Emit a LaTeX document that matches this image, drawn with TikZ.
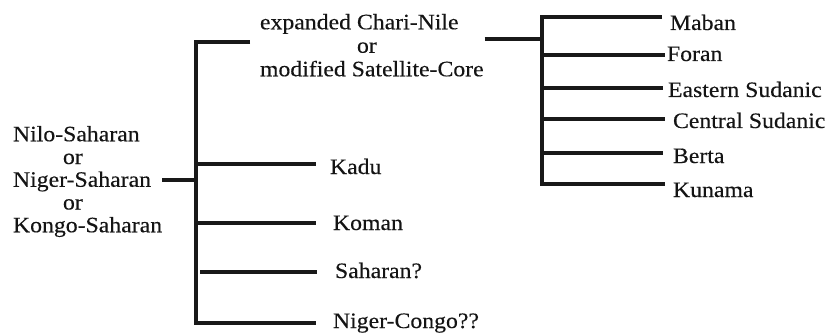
\documentclass[tikz,border=0pt]{standalone}
\usepackage{fontspec}
\setmainfont{Liberation Serif}[FakeStretch=1.08, FakeBold=0.3]
\begin{document}
\begin{tikzpicture}[x=1pt,y=-1pt,
  lbl/.style={inner sep=0pt, outer sep=0pt, text=black!92,
              font=\fontsize{22}{22.75}\selectfont},
  br/.style={line width=3.2pt, draw=black!90, line join=miter, line cap=butt}]
\useasboundingbox (0,0) rectangle (832,334);

% ---- root label ----
\node[lbl, anchor=north west, align=left] (root) at (13,126)
  {Nilo-Saharan\\\hspace*{50pt}or\\Niger-Saharan\\\hspace*{50pt}or\\Kongo-Saharan};

% ---- first-level labels ----
\node[lbl, anchor=north west, align=left,
      font=\fontsize{22}{23.5}\selectfont] (cn) at (260,14)
  {expanded Chari-Nile\\\hspace*{97pt}or\\modified Satellite-Core};
\node[lbl, anchor=base west] (kadu)   at (330,174) {Kadu};
\node[lbl, anchor=base west] (koman)  at (333,230) {Koman};
\node[lbl, anchor=base west] (sah)    at (335,278) {Saharan?};
\node[lbl, anchor=base west] (nc)     at (333,328) {Niger-Congo??};

% ---- second-level labels ----
\node[lbl, anchor=base west] (maban)  at (670,30)  {Maban};
\node[lbl, anchor=base west] (foran)  at (667,61)  {Foran};
\node[lbl, anchor=base west] (esud)   at (668,97)  {Eastern Sudanic};
\node[lbl, anchor=base west] (csud)   at (673,128) {Central Sudanic};
\node[lbl, anchor=base west] (berta)  at (673,163) {Berta};
\node[lbl, anchor=base west] (kunama) at (673,197) {Kunama};

% ---- joints on the first trunk ----
\coordinate (rootJ) at (196,180);
\coordinate (tTop)  at (196,42);
\coordinate (tKadu) at (196,164);
\coordinate (tKom)  at (196,223);
\coordinate (tSah)  at (200,272);
\coordinate (tBot)  at (196,323);

% ---- joints on the second trunk ----
\coordinate (cnJ)   at (542,39);
\coordinate (sTop)  at (542,17);
\coordinate (sFor)  at (542,55);
\coordinate (sEs)   at (542,88);
\coordinate (sCs)   at (542,119);
\coordinate (sBer)  at (542,153);
\coordinate (sBot)  at (542,184);

% ---- first bracket ----
\draw[br] (root.east |- rootJ) -- (rootJ);
\draw[br] ([xshift=-10pt]cn.west |- tTop) -- (tTop) -- (tBot) -- ([xshift=-17pt]nc.west |- tBot);
\draw[br] (tKadu) -- ([xshift=-14pt]kadu.west |- tKadu);
\draw[br] (tKom)  -- ([xshift=-17pt]koman.west |- tKom);
\draw[br] (tSah)  -- ([xshift=-18pt]sah.west |- tSah);

% ---- second bracket ----
\draw[br] (cnJ -| cn.east) ++(1pt,0) -- (cnJ);
\draw[br] ([xshift=-8pt]maban.west |- sTop) -- (sTop) -- (sBot) -- ([xshift=-8pt]kunama.west |- sBot);
\draw[br] (sFor) -- ([xshift=-2pt]foran.west |- sFor);
\draw[br] (sEs)  -- ([xshift=-5pt]esud.west |- sEs);
\draw[br] (sCs)  -- ([xshift=-8pt]csud.west |- sCs);
\draw[br] (sBer) -- ([xshift=-10pt]berta.west |- sBer);
\end{tikzpicture}
\end{document}
